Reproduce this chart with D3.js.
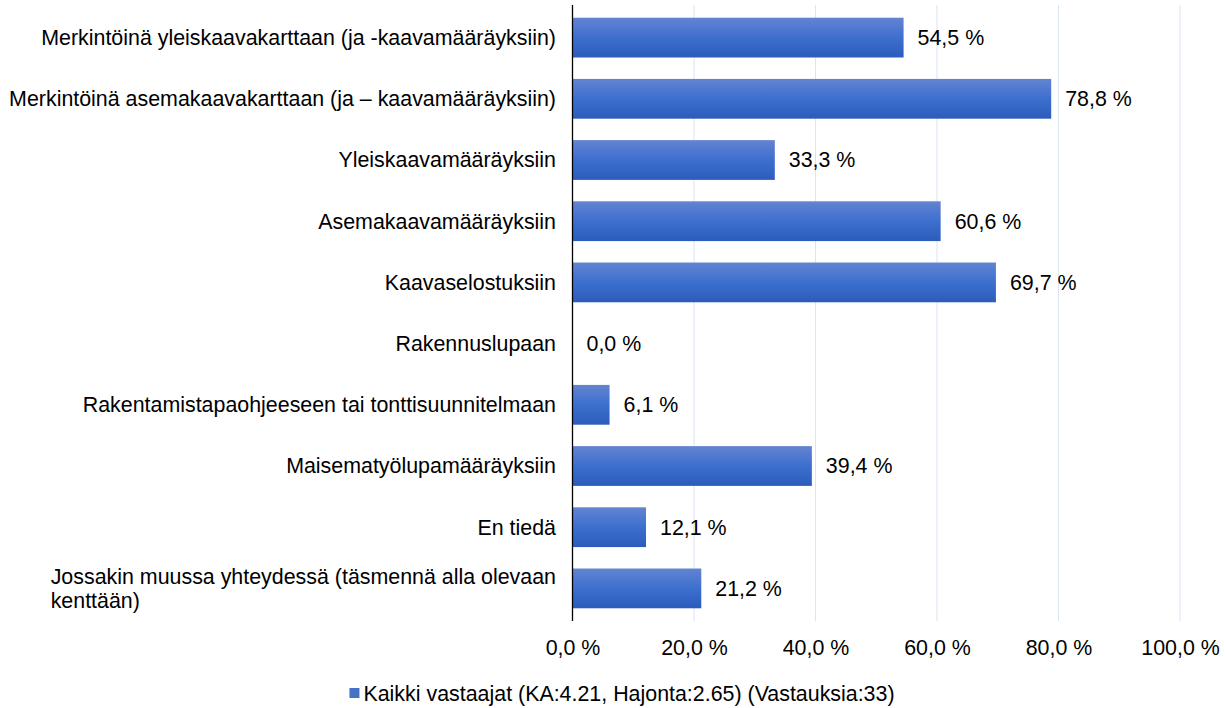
<!DOCTYPE html>
<html><head><meta charset="utf-8">
<script src="https://cdn.jsdelivr.net/npm/d3@7"></script>
<style>body{margin:0;background:#fff;} text{font-family:"Liberation Sans",Arial,sans-serif;fill:#000;}</style>
</head><body>
<svg id="c" width="1225" height="708"></svg>
<script>
const categories = [
  "Merkintöinä yleiskaavakarttaan (ja -kaavamääräyksiin)",
  "Merkintöinä asemakaavakarttaan (ja – kaavamääräyksiin)",
  "Yleiskaavamääräyksiin",
  "Asemakaavamääräyksiin",
  "Kaavaselostuksiin",
  "Rakennuslupaan",
  "Rakentamistapaohjeeseen tai tonttisuunnitelmaan",
  "Maisematyölupamääräyksiin",
  "En tiedä",
  "Jossakin muussa yhteydessä (täsmennä alla olevaan kenttään)"
];
const values = [54.5, 78.8, 33.3, 60.6, 69.7, 0.0, 6.1, 39.4, 12.1, 21.2];
const tickValues = [0, 20, 40, 60, 80, 100];
const seriesName = "Kaikki vastaajat (KA:4.21, Hajonta:2.65) (Vastauksia:33)";

const svg = d3.select("#c");
const fs = 21.4;
const x = d3.scaleLinear().domain([0, 100]).range([572.5, 1180]);
const y = d3.scaleBand().domain(categories).range([7, 619]).paddingInner(0.35).paddingOuter(0.175);
const fmt = v => d3.format(".1f")(v).replace(".", ",") + " %";

const defs = svg.append("defs");
const g = defs.append("linearGradient").attr("id","bg").attr("x1",0).attr("y1",0).attr("x2",0).attr("y2",1);
g.append("stop").attr("offset","0%").attr("stop-color","#6384d1");
g.append("stop").attr("offset","50%").attr("stop-color","#3d6fcf");
g.append("stop").attr("offset","100%").attr("stop-color","#2c5cbb");

// gridlines
svg.append("g").selectAll("line").data(tickValues.slice(1)).join("line")
  .attr("x1", d => x(d)).attr("x2", d => x(d)).attr("y1", 5).attr("y2", 621)
  .attr("stroke", "#d9e4f4").attr("stroke-width", 1);

// bars
svg.append("g").selectAll("rect").data(values).join("rect")
  .attr("x", x(0)).attr("y", (d,i) => y(categories[i]))
  .attr("width", d => x(d) - x(0)).attr("height", y.bandwidth())
  .attr("fill", "url(#bg)");

// value labels
svg.append("g").selectAll("text").data(values).join("text")
  .attr("x", d => x(d) + 14).attr("y", (d,i) => y(categories[i]) + y.bandwidth()/2)
  .attr("dy", "0.35em").attr("font-size", fs).text(d => fmt(d));

// axis line
svg.append("line").attr("x1", x(0)).attr("x2", x(0)).attr("y1", 5).attr("y2", 621)
  .attr("stroke", "#000").attr("stroke-width", 1.3);

// x tick labels via axis
const xa = d3.axisBottom(x).tickValues(tickValues).tickFormat(fmt).tickSize(0).tickPadding(0);
const ax = svg.append("g").attr("transform", "translate(0,640)").call(xa);
ax.select(".domain").remove();
ax.selectAll("text").attr("font-size", fs).attr("dy", "0.71em").style("font-family", '"Liberation Sans",Arial,sans-serif').attr("fill","#000");

// category labels
const labelRight = 556;
const maxW = 570;
categories.forEach((c, i) => {
  const cy = y(c) + y.bandwidth()/2;
  const t = svg.append("text").attr("font-size", fs).attr("text-anchor", "start");
  const words = c.split(" ");
  let lines = [], cur = "";
  const probe = svg.append("text").attr("font-size", fs);
  words.forEach(w => {
    const test = cur ? cur + " " + w : w;
    probe.text(test);
    if (probe.node().getComputedTextLength() > maxW && cur) { lines.push(cur); cur = w; }
    else cur = test;
  });
  lines.push(cur);
  let widest = 0;
  lines.forEach(l => { probe.text(l); widest = Math.max(widest, probe.node().getComputedTextLength()); });
  probe.remove();
  const lh = 24;
  const startX = labelRight - widest;
  lines.forEach((l, k) => {
    t.append("tspan").attr("x", lines.length > 1 ? startX : labelRight)
      .attr("y", cy + (k - (lines.length - 1)/2) * lh).attr("dy", "0.35em").text(l);
  });
  if (lines.length === 1) t.attr("text-anchor", "end");
});

// legend
const leg = svg.append("g").attr("transform", "translate(0,693)");
const lt = leg.append("text").attr("font-size", fs).attr("dy", "0.35em").text(seriesName);
const lw = lt.node().getComputedTextLength();
const total = 10 + 4 + lw;
const lx = 622 - total/2;
leg.append("rect").attr("x", lx).attr("y", -5).attr("width", 10).attr("height", 10).attr("fill", "#4472c4");
lt.attr("x", lx + 14);
</script>
</body></html>
